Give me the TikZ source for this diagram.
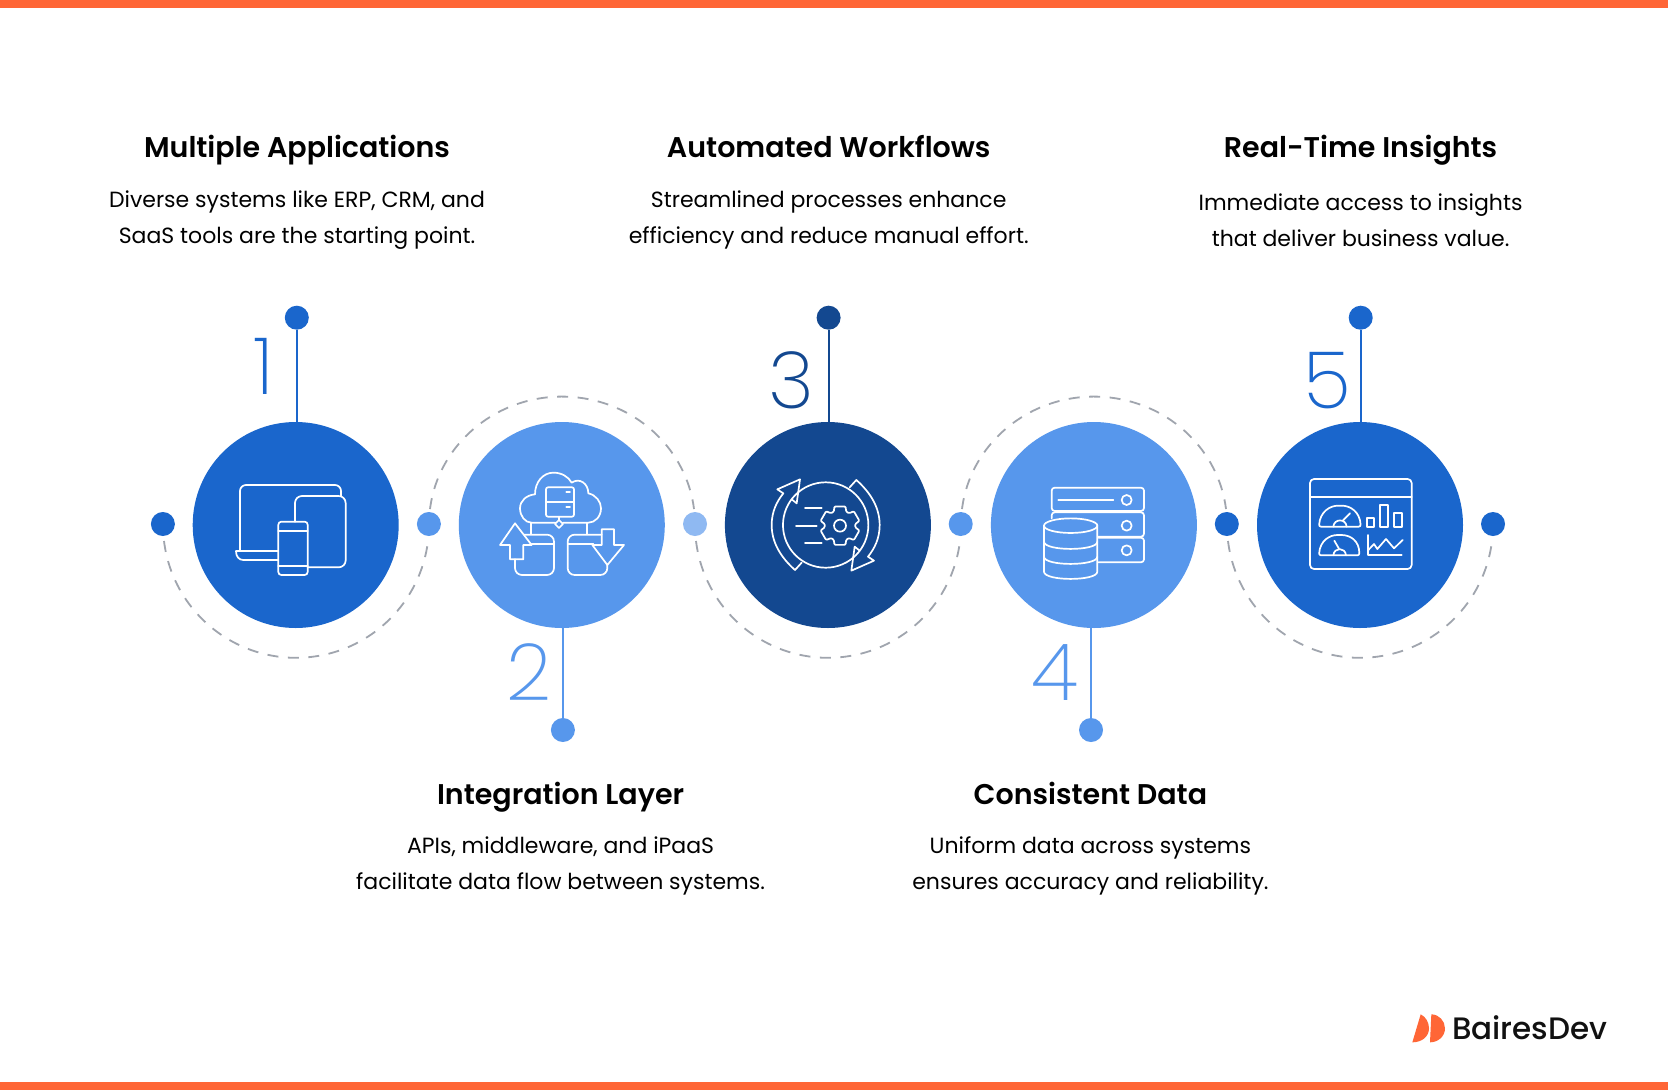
\documentclass[tikz,border=0pt]{standalone}
\usepackage{fontspec}
\setmainfont{Poppins}
\newfontfamily\bodyfont{Poppins}
\newfontfamily\titlefont{Poppins}[UprightFont=*-SemiBold]
\newfontfamily\numfont{Poppins}[UprightFont=*-ExtraLight]
\newfontfamily\logofont{Poppins}[UprightFont=*-Medium]
\definecolor{cdark}{HTML}{1A66CC}
\definecolor{clight}{HTML}{5797EC}
\definecolor{cnavy}{HTML}{134890}
\definecolor{cpale}{HTML}{8FB9F2}
\definecolor{corange}{HTML}{FF6636}
\definecolor{cdash}{HTML}{A0A5AE}
\definecolor{cink}{HTML}{111111}
\tikzset{
  bigc/.style={circle,fill=#1,draw=none,minimum size=206pt,inner sep=0pt},
  dot/.style={circle,fill=#1,draw=none,minimum size=24pt,inner sep=0pt},
  stem/.style={line width=2.2pt,draw=#1},
  arcd/.style={draw=cdash,line width=1.8pt,dash pattern=on 11pt off 9.5pt},
  ttl/.style={font={\titlefont\fontsize{28.5}{34}\selectfont},text=black,anchor=base,inner sep=0pt},
  bdy/.style={font={\bodyfont\fontsize{22}{36}\selectfont},text=black,align=center,anchor=center,inner sep=0pt},
  num/.style={font={\numfont\fontsize{79}{80}\selectfont},text=#1,anchor=base,inner sep=0pt},
  ico/.style={draw=white,line width=1.7pt,line join=round,line cap=round},
  izoom/.style={x=0.33333pt,y=-0.33333pt}
}
\begin{document}
\begin{tikzpicture}[x=1pt,y=1pt]
\useasboundingbox (0,-1090) rectangle (1668,0);
\fill[white] (0,-1090) rectangle (1668,0);
\fill[corange] (0,0) rectangle (1668,-7.5);
\fill[corange] (0,-1082) rectangle (1668,-1090);

% dashed arcs
\draw[arcd] (164,-541) arc[start angle=187,end angle=353,x radius=133,y radius=133] ;
\draw[arcd] (430,-509) arc[start angle=173,end angle=7,x radius=133,y radius=128];
\draw[arcd] (696,-541) arc[start angle=187,end angle=353,x radius=133,y radius=133];
\draw[arcd] (962,-509) arc[start angle=173,end angle=7,x radius=133,y radius=128];
\draw[arcd] (1228,-541) arc[start angle=187,end angle=353,x radius=133,y radius=133];

% big circles
\node[bigc=cdark] (c1) at (295.7,-525) {};
\node[bigc=clight] (c2) at (561.8,-525) {};
\node[bigc=cnavy] (c3) at (827.9,-525) {};
\node[bigc=clight] (c4) at (1093.9,-525) {};
\node[bigc=cdark] (c5) at (1360,-525) {};

% side dots
\node[dot=cdark] (s1) at (162.9,-524) {};
\node[dot=clight] (s2) at (428.9,-524) {};
\node[dot=cpale] (s3) at (695,-524) {};
\node[dot=clight] (s4) at (960.7,-524) {};
\node[dot=cdark] (s5) at (1226.8,-524) {};
\node[dot=cdark] (s6) at (1493,-524) {};

% end dots and stems
\node[dot=cdark] (t1) at (296.8,-317.7) {};
\node[dot=clight] (t2) at (562.9,-730) {};
\node[dot=cnavy] (t3) at (828.6,-317.7) {};
\node[dot=clight] (t4) at (1091,-730) {};
\node[dot=cdark] (t5) at (1360.7,-317.7) {};
\draw[stem=cdark] (t1.south) -- (t1.south |- c1.north);
\draw[stem=clight] (t2.north) -- (t2.north |- c2.south);
\draw[stem=cnavy] (t3.south) -- (t3.south |- c3.north);
\draw[stem=clight] (t4.north) -- (t4.north |- c4.south);
\draw[stem=cdark] (t5.south) -- (t5.south |- c5.north);

% numbers
\node[num=cdark] (n1) at (264,-394) {1};
\node[num=clight] (n2) at (529.5,-700) {2};
\node[num=cnavy] (n3) at (791,-408) {3};
\node[num=clight] (n4) at (1055,-700) {4};
\node[num=cdark] (n5) at (1327,-408) {5};

% texts
\node[ttl] (h1) at (297,-157.7) {Multiple Applications};
\node[bdy] (b1) at (297,-220) {Diverse systems like ERP, CRM, and\\SaaS tools are the starting point.};
\node[ttl] (h2) at (560.6,-804) {Integration Layer};
\node[bdy] (b2) at (560.6,-866) {APIs, middleware, and iPaaS\\facilitate data flow between systems.};
\node[ttl] (h3) at (828.7,-157.7) {Automated Workflows};
\node[bdy] (b3) at (828.7,-220) {Streamlined processes enhance\\efficiency and reduce manual effort.};
\node[ttl] (h4) at (1090.4,-804) {Consistent Data};
\node[bdy] (b4) at (1090.4,-866) {Uniform data across systems\\ensures accuracy and reliability.};
\node[ttl] (h5) at (1360.6,-157.7) {Real-Time Insights};
\node[bdy] (b5) at (1360.6,-220) {Immediate access to insights\\that deliver business value.};

% icon 1
\begin{scope}[shift={(225,-470)},izoom]
\draw[ico,rounded corners=6pt] (45,243) -- (45,45) -- (348,45) -- (348,78);
\draw[ico] (160,243) -- (33,243) .. controls (33,260) and (42,270) .. (55,270) -- (160,270);
\draw[ico,rounded corners=7pt] (210,155) -- (210,78) -- (362,78) -- (362,292) -- (248,292);
\draw[ico,rounded corners=3pt] (160,155) rectangle (248,315);
\draw[ico] (160,182) -- (248,182) (160,288) -- (248,288);
\end{scope}

% icon 2
\begin{scope}[shift={(490,-460)},izoom]
\draw[ico] (196,188) -- (125,188) .. controls (105,188) and (90,168) .. (90,145)
  .. controls (90,122) and (110,105) .. (135,103)
  .. controls (135,65) and (160,38) .. (190,38)
  .. controls (215,38) and (235,50) .. (245,68)
  .. controls (268,52) and (295,70) .. (295,100)
  .. controls (318,105) and (333,125) .. (333,145)
  .. controls (333,170) and (315,188) .. (295,188) -- (219,188);
\draw[ico,rounded corners=2pt] (168,82) rectangle (252,170);
\draw[ico] (168,127) -- (252,127) (229,96) -- (240,96) (229,140) -- (240,140) (207,170) -- (207,180);
\draw[ico] (207,180) -- (219,192) -- (207,204) -- (195,192) -- cycle;
\draw[ico] (122,190) -- (122,222) (290,190) -- (290,222);
\draw[ico] (75,190) -- (125,255) -- (100,255) -- (100,298) -- (60,298) -- (60,255) -- (30,255) -- cycle;
\draw[ico,rounded corners=7pt] (103,224) -- (192,224) -- (192,345) -- (75,345) -- (75,298);
\draw[ico] (125,253) -- (192,253);
\draw[ico,rounded corners=7pt] (335,224) -- (233,224) -- (233,345) -- (352,345) -- (352,315);
\draw[ico] (233,253) -- (310,253);
\draw[ico] (335,208) -- (372,208) -- (372,255) -- (402,255) -- (352,315) -- (307,255) -- (335,255) -- cycle;
\end{scope}

% icon 3
\begin{scope}[shift={(760,-470)},izoom]
\draw[ico] (197,165) circle[radius=42.7pt];
\draw[ico] (125,278) -- (105,300) .. controls (60,260) and (35,215) .. (35,165)
  .. controls (35,125) and (50,95) .. (70,70) -- (52,58) -- (120,28) -- (110,100) -- (95,88);
\draw[ico] (269,52) -- (289,30) .. controls (334,70) and (359,115) .. (359,165)
  .. controls (359,205) and (344,235) .. (324,260) -- (342,272) -- (274,302) -- (284,230) -- (299,242);
\draw[ico] (135,113) -- (185,113) (108,167) -- (170,167) (135,220) -- (185,220);
\draw[ico] (240,167) circle[radius=6pt];
\begin{scope}[shift={(240,167)}]
\draw[ico,rounded corners=1pt] (74:60)
  \foreach \a in {90,150,210,270,330,30} { -- (\a-16:60) -- (\a+16:60) -- (\a+24:46) -- (\a+36:46) }
  -- cycle;
\end{scope}
\end{scope}

% icon 4
\begin{scope}[shift={(1030,-475)},izoom]
\draw[ico,rounded corners=3pt] (65,38) rectangle (342,108);
\draw[ico,rounded corners=3pt] (65,130) -- (65,112) -- (342,112) -- (342,185) -- (205,185);
\draw[ico,rounded corners=3pt] (205,188) -- (342,188) -- (342,262) -- (205,262);
\draw[ico] (85,75) -- (250,75);
\draw[ico] (290,75) circle[radius=5pt] (290,152) circle[radius=5pt] (290,226) circle[radius=5pt];
\draw[ico] (122,152) circle[x radius=26.7pt,y radius=7.3pt];
\draw[ico] (42,152) -- (42,290) .. controls (42,319) and (202,319) .. (202,290) -- (202,152);
\draw[ico] (42,200) .. controls (42,229) and (202,229) .. (202,200);
\draw[ico] (42,245) .. controls (42,274) and (202,274) .. (202,245);
\end{scope}

% icon 5
\begin{scope}[shift={(1300,-470)},izoom]
\draw[ico,rounded corners=4pt] (30,27) rectangle (335,297);
\draw[ico] (30,80) -- (335,80);
\draw[ico,rounded corners=2pt] (57,170) .. controls (60,125) and (90,107) .. (120,107) .. controls (150,107) and (180,125) .. (182,170) -- cycle;
\draw[ico] (100,170) .. controls (102,145) and (138,145) .. (140,170) (130,150) -- (150,130);
\draw[ico,rounded corners=2pt] (57,256) .. controls (60,211) and (90,195) .. (118,195) .. controls (150,195) and (178,211) .. (178,256) -- cycle;
\draw[ico] (100,256) .. controls (102,231) and (136,231) .. (138,256) (118,238) -- (103,212);
\draw[ico] (200,143) rectangle (222,170) (240,105) rectangle (265,170) (281,128) rectangle (305,170);
\draw[ico] (205,195) -- (205,256) -- (305,256);
\draw[ico] (205,240) -- (222,222) -- (232,237) -- (258,207) -- (282,235) -- (308,210);
\end{scope}

% logo
\begin{scope}[shift={(1405,-1005)},izoom]
\fill[corange] (22,112) -- (47,28) .. controls (62,35) and (72,52) .. (72,70) .. controls (72,95) and (50,112) .. (22,112) -- cycle;
\fill[corange] (75,112) -- (79,28) .. controls (102,28) and (120,48) .. (120,70) .. controls (120,95) and (98,112) .. (75,112) -- cycle;
\end{scope}
\node[font={\logofont\fontsize{31}{31}\selectfont},text=cink,anchor=base west,inner sep=0pt] (logo) at (1452,-1039) {BairesDev};
\end{tikzpicture}
\end{document}
